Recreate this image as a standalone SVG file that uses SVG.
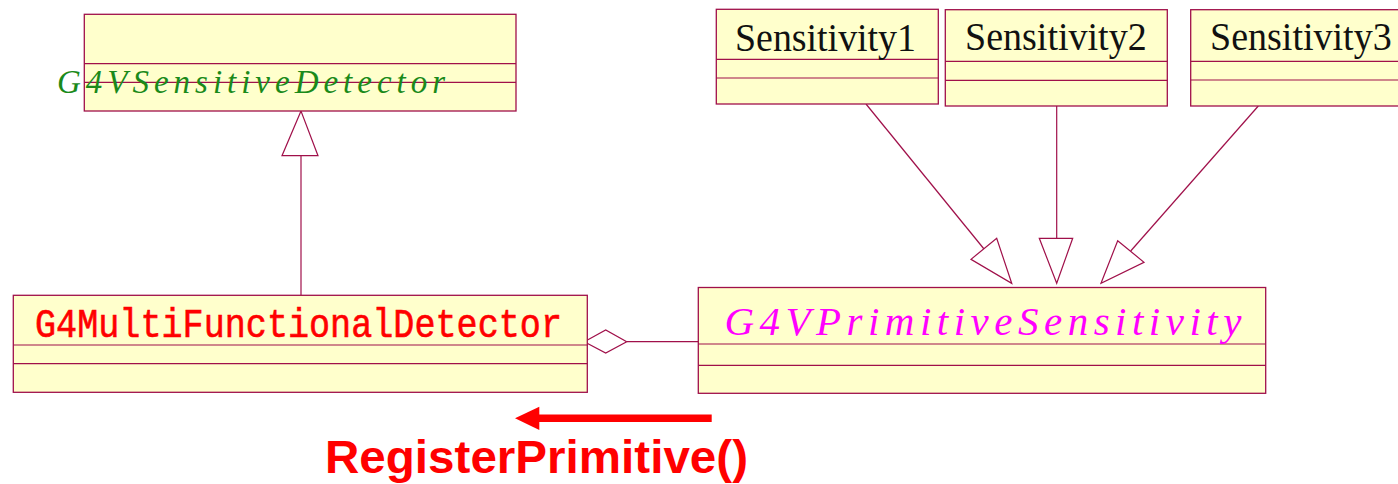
<svg xmlns="http://www.w3.org/2000/svg" width="1398" height="484" viewBox="0 0 1398 484">
<style>
.box{fill:#FFFFCC;stroke:#A0104A;stroke-width:1.3}
.div{stroke:#A0104A;stroke-width:1.2;fill:none}
.ln{stroke:#A0104A;stroke-width:1.2;fill:none}
.tri{stroke:#A0104A;stroke-width:1.2;fill:#FFFFFF}
.sens{font-family:"Liberation Serif",serif;font-size:39px;fill:#111111}
</style>
<rect width="1398" height="484" fill="#FFFFFF"/>
<g id="connectors">
<line class="ln" x1="301" y1="155.7" x2="301" y2="295.3"/>
<polygon class="tri" points="301,111 282,155.7 318,155.7"/>
<line class="ln" x1="866" y1="104" x2="984" y2="249"/>
<polygon class="tri" points="1011.7,283.3 996.7,238.3 971,259.3"/>
<line class="ln" x1="1056.7" y1="106" x2="1056.7" y2="238.3"/>
<polygon class="tri" points="1056.7,283.3 1039.3,238.3 1072.7,238.3"/>
<line class="ln" x1="1258.3" y1="106" x2="1130.7" y2="251"/>
<polygon class="tri" points="1101,283.3 1117.7,240.7 1144,262.3"/>
<line class="ln" x1="626.7" y1="341.7" x2="698.3" y2="341.7"/>
<polygon class="tri" points="584.3,341.7 605.7,330 626.7,341.7 605.7,353"/>
</g>
<g id="G4VSensitiveDetector">
<rect class="box" x="84.3" y="14.3" width="431.7" height="96.7"/>
<line class="div" x1="84.3" y1="63.7" x2="516" y2="63.7"/>
<line class="div" x1="84.3" y1="82.3" x2="516" y2="82.3"/>
<text x="57" y="93.3" font-family="Liberation Serif, serif" font-style="italic" font-size="33" fill="#1A8A1A" textLength="388" lengthAdjust="spacing">G4VSensitiveDetector</text>
</g>
<g id="Sensitivity1">
<rect class="box" x="716.3" y="9.3" width="222" height="94.7"/>
<line class="div" x1="716.3" y1="59.3" x2="938.3" y2="59.3"/>
<line class="div" x1="716.3" y1="78" x2="938.3" y2="78"/>
<text class="sens" x="735" y="50.7" textLength="181" lengthAdjust="spacingAndGlyphs">Sensitivity1</text>
</g>
<g id="Sensitivity2">
<rect class="box" x="945.3" y="9.7" width="222" height="96.3"/>
<line class="div" x1="945.3" y1="61.3" x2="1167.3" y2="61.3"/>
<line class="div" x1="945.3" y1="80.3" x2="1167.3" y2="80.3"/>
<text class="sens" x="965" y="50" textLength="181.7" lengthAdjust="spacingAndGlyphs">Sensitivity2</text>
</g>
<g id="Sensitivity3">
<rect class="box" x="1190.7" y="9.7" width="220" height="96.3"/>
<line class="div" x1="1190.7" y1="61.3" x2="1410" y2="61.3"/>
<line class="div" x1="1190.7" y1="80" x2="1410" y2="80"/>
<text class="sens" x="1210" y="50" textLength="181.7" lengthAdjust="spacingAndGlyphs">Sensitivity3</text>
</g>
<g id="G4MultiFunctionalDetector">
<rect class="box" x="13.3" y="295.3" width="574" height="97"/>
<line class="div" x1="13.3" y1="345" x2="587.3" y2="345"/>
<line class="div" x1="13.3" y1="363.7" x2="587.3" y2="363.7"/>
<text x="35" y="336.7" font-family="Liberation Mono, monospace" font-size="40" fill="#FF0000" stroke="#FF0000" stroke-width="0.6" textLength="527" lengthAdjust="spacingAndGlyphs">G4MultiFunctionalDetector</text>
</g>
<g id="G4VPrimitiveSensitivity">
<rect class="box" x="698.3" y="287.5" width="567.4" height="105.8"/>
<line class="div" x1="698.3" y1="344" x2="1265.7" y2="344"/>
<line class="div" x1="698.3" y1="365.3" x2="1265.7" y2="365.3"/>
<text x="724.4" y="335" font-family="Liberation Serif, serif" font-style="italic" font-size="41" fill="#FF00FF" textLength="517" lengthAdjust="spacing">G4VPrimitiveSensitivity</text>
</g>
<g id="RegisterPrimitive">
<line x1="711.7" y1="418.3" x2="537" y2="418.3" stroke="#FF0000" stroke-width="7.5"/>
<polygon points="515,418.3 539.3,406.7 539.3,430" fill="#FF0000"/>
<text x="325" y="473.3" font-family="Liberation Sans, Arial, sans-serif" font-weight="bold" font-size="47" fill="#FF0000" textLength="423" lengthAdjust="spacingAndGlyphs">RegisterPrimitive()</text>
</g>
</svg>
